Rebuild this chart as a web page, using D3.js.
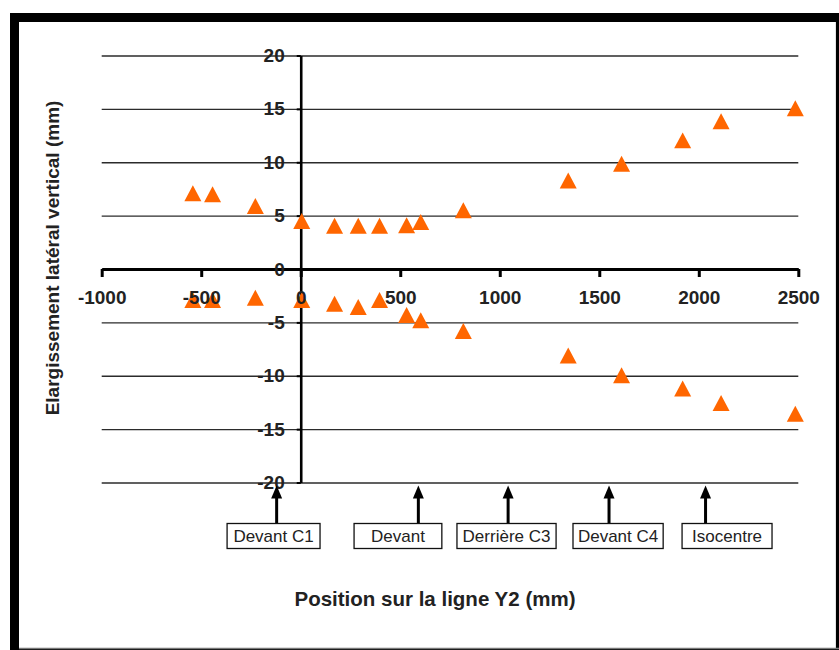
<!DOCTYPE html>
<html>
<head>
<meta charset="utf-8">
<script src="https://cdn.jsdelivr.net/npm/d3@7"></script>
<style>
  body { margin: 0; background: #fff; }
  svg { display: block; font-family: "Liberation Sans", Arial, sans-serif; }
</style>
</head>
<body>
<svg id="chart" width="839" height="650"></svg>
<script>
// DATA (mm)
const xTicks = [-1000, -500, 0, 500, 1000, 1500, 2000, 2500];
const yTicks = [-20, -15, -10, -5, 0, 5, 10, 15, 20];
const positions = [-542, -443, -228, 5, 170, 289, 396, 532, 603, 817, 1344, 1612, 1919, 2112, 2485];
const upperValues = [7.1, 7.0, 5.9, 4.5, 4.05, 4.05, 4.05, 4.1, 4.4, 5.5, 8.3, 9.85, 12.05, 13.85, 15.05];
const lowerValues = [-2.9, -2.9, -2.7, -2.9, -3.25, -3.55, -2.9, -4.3, -4.8, -5.8, -8.1, -9.95, -11.2, -12.55, -13.55];
const noteLabels = ['Devant C1', 'Devant', 'Derrière C3', 'Devant C4', 'Isocentre'];
const noteArrowAt = [-121, 591, 1042, 1549, 2034];
const noteBoxFrom = [-370, 268, 785, 1368, 1916];
const noteBoxTo = [97, 709, 1283, 1821, 2368];

const svg = d3.select('#chart');
const orange = '#ff6600';
const plain = (d) => String(d); // keep the hyphen minus of the original

// FRAME
svg.append('rect').attr('x', 10).attr('y', 13).attr('width', 829).attr('height', 637).attr('fill', '#000');
svg.append('rect').attr('x', 19).attr('y', 22).attr('width', 816).attr('height', 626).attr('fill', '#fff');
svg.append('line').attr('x1', 835.5).attr('x2', 835.5).attr('y1', 22).attr('y2', 648)
  .attr('stroke', '#e4e4e4').attr('stroke-width', 1);
svg.append('line').attr('x1', 19).attr('x2', 839).attr('y1', 648.5).attr('y2', 648.5)
  .attr('stroke', '#777').attr('stroke-width', 1.5);

// SCALES
const x = d3.scaleLinear().domain([-1000, 2500]).range([101.7, 798.3]);
const y = d3.scaleLinear().domain([-20, 20]).range([482.5, 55.5]);

// GRIDLINES
svg.append('g')
  .attr('transform', `translate(${x(-1000)},0)`)
  .call(d3.axisLeft(y).tickValues(yTicks).tickSize(-(x(2500) - x(-1000))).tickFormat(''))
  .call((g) => g.select('.domain').remove())
  .call((g) => g.selectAll('line').attr('stroke', '#2b2b2b').attr('stroke-width', 1.4));

// AXIS LINES
svg.append('g')
  .attr('transform', `translate(${x(0)},0)`)
  .call(d3.axisLeft(y).tickValues(yTicks).tickSize(4).tickSizeOuter(0).tickFormat(''))
  .call((g) => g.select('.domain').attr('stroke', '#000').attr('stroke-width', 2.6))
  .call((g) => g.selectAll('line').attr('stroke', '#000').attr('stroke-width', 2));

svg.append('g')
  .attr('transform', `translate(0,${y(0)})`)
  .call(d3.axisBottom(x).tickValues(xTicks).tickSize(8).tickSizeOuter(0).tickFormat(''))
  .call((g) => g.select('.domain').attr('stroke', '#000').attr('stroke-width', 3.2))
  .call((g) => g.selectAll('line').attr('stroke', '#000').attr('stroke-width', 3));

// POINTS
const triangle = {
  draw(context, size) {
    const w = Math.sqrt(size);
    const h = w * 0.94;
    context.moveTo(0, -h / 2);
    context.lineTo(w / 2, h / 2);
    context.lineTo(-w / 2, h / 2);
    context.closePath();
  },
};
const marker = d3.symbol().type(triangle).size(17 * 17);

[upperValues, lowerValues].forEach((series) => {
  svg.append('g')
    .selectAll('path')
    .data(series)
    .join('path')
    .attr('transform', (d, i) => `translate(${x(positions[i])},${y(d)})`)
    .attr('d', marker)
    .attr('fill', orange);
});

// TICK LABELS (on top of the points)
svg.append('g')
  .attr('transform', `translate(${x(0)},0)`)
  .call(d3.axisLeft(y).tickValues(yTicks).tickSize(0).tickPadding(16).tickFormat(plain))
  .call((g) => g.select('.domain').remove())
  .call((g) => g.selectAll('line').remove())
  .call((g) => g.selectAll('text')
    .attr('font-family', '"Liberation Sans", Arial, sans-serif')
    .attr('font-size', 19).attr('font-weight', 'bold').attr('fill', '#222'));

svg.append('g')
  .attr('transform', `translate(0,${y(0)})`)
  .call(d3.axisBottom(x).tickValues(xTicks).tickSize(0).tickPadding(22).tickFormat(plain))
  .call((g) => g.select('.domain').remove())
  .call((g) => g.selectAll('line').remove())
  .call((g) => g.selectAll('text')
    .attr('font-family', '"Liberation Sans", Arial, sans-serif')
    .attr('font-size', 19).attr('font-weight', 'bold').attr('fill', '#222'));

// ANNOTATIONS
const base = y(-20);
const notes = svg.append('g');
noteLabels.forEach((label, i) => {
  const ax = x(noteArrowAt[i]);
  notes.append('line')
    .attr('x1', ax).attr('x2', ax)
    .attr('y1', base + 41).attr('y2', base + 14)
    .attr('stroke', '#000').attr('stroke-width', 3);
  notes.append('path')
    .attr('d', `M${ax},${base + 3}L${ax + 5.5},${base + 16}L${ax - 5.5},${base + 16}Z`)
    .attr('fill', '#000');
  const bx0 = x(noteBoxFrom[i]);
  const bx1 = x(noteBoxTo[i]);
  notes.append('rect')
    .attr('x', bx0).attr('y', base + 41)
    .attr('width', bx1 - bx0).attr('height', 25)
    .attr('fill', '#fff').attr('stroke', '#111').attr('stroke-width', 1.3);
  notes.append('text')
    .attr('x', (bx0 + bx1) / 2).attr('y', base + 59.5)
    .attr('text-anchor', 'middle')
    .attr('font-size', 17).attr('fill', '#222')
    .text(label);
});

// AXIS TITLES
svg.append('text')
  .attr('x', 435).attr('y', 606)
  .attr('text-anchor', 'middle')
  .attr('font-size', 20.5).attr('font-weight', 'bold').attr('fill', '#222')
  .text('Position sur la ligne Y2 (mm)');

svg.append('text')
  .attr('transform', 'translate(59,258) rotate(-90)')
  .attr('text-anchor', 'middle')
  .attr('font-size', 19).attr('font-weight', 'bold').attr('fill', '#222')
  .text('Elargissement latéral vertical (mm)');
</script>
</body>
</html>
